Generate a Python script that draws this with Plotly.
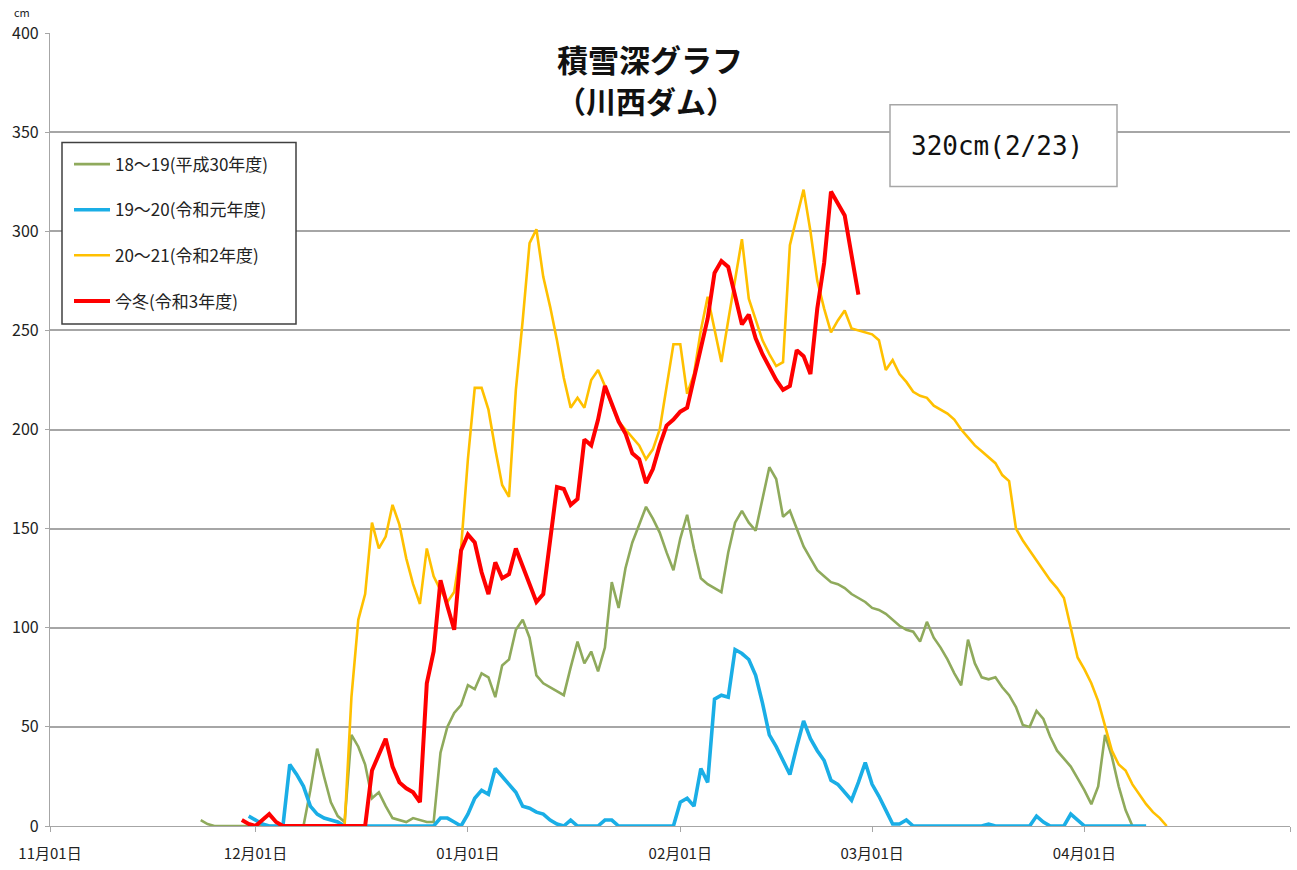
import pandas as pd
import plotly.graph_objects as go

# ---- data (daily snow depth, cm) ----
green_name = "18～19(平成30年度)"
green_start = "2021-11-23"
green_values = [3, 1, 0,
                0, 0, 0, 0, 0, 0, 0, 0, 0, 0, 0, 0, 0,
                18, 39, 25, 12, 5, 2, 46, 40, 31, 14, 17, 10, 4, 3, 2, 4, 3, 2, 2,
                37, 50, 57, 61, 71, 69, 77, 75, 65, 81, 84, 99, 104, 95, 76, 72, 70, 68, 66,
                80, 93, 82, 88, 78, 90, 123, 110, 130, 143, 152, 161, 155, 148, 138, 129, 145, 157, 140,
                125, 122, 120, 118, 138, 153, 159, 153, 149, 165, 181, 175, 156, 159, 150, 141, 135, 129, 126,
                123, 122, 120, 117, 115, 113, 110, 109, 107, 104, 101, 99, 98, 93, 103, 95, 90, 84, 77,
                71, 94, 82, 75, 74, 75, 70, 66, 60, 51, 50, 58, 54, 45, 38, 34, 30, 24, 18,
                11, 20, 46, 35, 20, 8, 0]

blue_name = "19～20(令和元年度)"
blue_start = "2021-11-30"
blue_values = [5, 3, 1, 0, 0, 0, 31, 26, 20, 10, 6, 4, 3, 2, 0,
               0, 0, 0, 0, 0, 0, 0, 0, 0, 0, 0, 0, 0,
               4, 4, 2, 0, 6, 14, 18, 16, 29, 25, 21, 17, 10, 9, 7, 6, 3, 1, 0,
               3, 0, 0, 0, 0, 3, 3, 0, 0, 0, 0, 0, 0, 0, 0, 0,
               12, 14, 10, 29, 22, 64, 66, 65, 89, 87, 84, 76, 62, 46, 40, 33, 26, 40, 53,
               44, 38, 33, 23, 21, 17, 13, 22, 32, 21, 15, 8, 1, 1, 3, 0,
               0, 0, 0, 0, 0, 0, 0, 0, 0, 0,
               1,
               0, 0, 0, 0, 0, 0,
               5, 2, 0, 0, 0, 6, 3, 0,
               0, 0, 0, 0, 0, 0, 0, 0, 0]

yellow_name = "20～21(令和2年度)"
yellow_start = "2021-12-14"
yellow_values = [0, 65, 104, 117, 153, 140, 146, 162, 152, 135, 122, 112, 140, 126, 119, 113, 118, 140, 185,
                 221, 221, 210, 190, 172, 166, 220, 255, 294, 301, 277, 262, 245, 226, 211, 216, 211, 225, 230,
                 222, 212, 204, 200, 196, 192, 185, 190, 200, 222, 243, 243, 218, 228, 250, 267, 250, 234, 255,
                 275, 296, 266, 256, 245, 238, 232, 234, 293, 307, 321, 300, 275, 261, 249, 255, 260, 251, 250,
                 249, 248, 245, 230, 235, 228, 224, 219, 217, 216, 212, 210, 208, 205, 200, 196, 192, 189, 186,
                 183, 177, 174, 150, 144, 139, 134, 129, 124, 120, 115, 100, 85, 79, 72, 63, 50, 38, 31,
                 28, 21, 16, 11, 7, 4, 0]

red_name = "今冬(令和3年度)"
red_start = "2021-11-29"
red_values = [3, 1, 0, 3, 6, 2, 0,
              0, 0, 0, 0, 0, 0, 0, 0, 0, 0, 0, 0,
              28, 36, 44, 30, 22, 19, 17, 12, 72, 88, 124, 111, 99, 139, 147, 143, 128, 117, 133,
              125, 127, 140, 131, 122, 113, 117, 145, 171, 170, 162, 165, 195, 192, 205, 222, 213, 204, 198,
              188, 185, 173, 180, 192, 202, 205, 209, 211, 226, 241, 256, 279, 285, 282, 267, 253, 258, 246,
              238, 231, 225, 220, 222, 240, 237, 228, 261, 284, 320, 314, 308, 288, 268]

tick_dates = ["2021-11-01", "2021-12-01", "2022-01-01", "2022-02-01", "2022-03-01", "2022-04-01", "2022-05-01"]
tick_labels = ["11月01日", "12月01日", "01月01日", "02月01日", "03月01日", "04月01日", ""]
y_ticks = [0, 50, 100, 150, 200, 250, 300, 350, 400]

title_line1 = "積雪深グラフ"
title_line2 = "（川西ダム）"
note_text = "320cm(2/23)"

FONT = "Noto Sans CJK JP"

series = [
    (green_name, green_start, green_values, "#8FAA5C", 2.6),
    (blue_name, blue_start, blue_values, "#1AAEE6", 3.6),
    (yellow_name, yellow_start, yellow_values, "#FFC000", 2.6),
    (red_name, red_start, red_values, "#FF0000", 4.0),
]

fig = go.Figure()
for name, start, vals, color, w in series:
    fig.add_trace(go.Scatter(
        x=pd.date_range(start, periods=len(vals), freq="D"),
        y=vals, mode="lines", name=name, legendgroup=name,
        line=dict(color=color, width=w),
    ))

L, R, T, B = 50, 7, 33, 41
W, H = 1297, 870
pw, ph = W - L - R, H - T - B

def px(x):
    return (x - L) / pw

def py(y):
    return (H - B - y) / ph

fig.update_layout(
    width=W, height=H,
    margin=dict(l=L, r=R, t=T, b=B, pad=0),
    paper_bgcolor="white", plot_bgcolor="white",
    font=dict(family=FONT, size=14, color="#222222"),
    showlegend=True,
    legend=dict(
        x=px(69), y=py(147), xanchor="left", yanchor="top",
        bgcolor="rgba(0,0,0,0)", borderwidth=0,
        font=dict(family=FONT, size=17, color="#222222"),
        tracegroupgap=20.5, itemwidth=36,
    ),
    xaxis=dict(
        type="date", range=["2021-11-01", "2022-05-01"],
        tickmode="array", tickvals=tick_dates, ticktext=tick_labels,
        showgrid=False, zeroline=False,
        showline=True, linecolor="#A6A6A6", linewidth=1.2,
        ticks="outside", ticklen=5, tickcolor="#A6A6A6", tickwidth=1,
        ticklabelstandoff=9,
        tickfont=dict(family=FONT, size=15, color="#222222"),
    ),
    yaxis=dict(
        range=[0, 400], tickmode="array", tickvals=y_ticks,
        showgrid=True, gridcolor="#A6A6A6", gridwidth=1.5,
        zeroline=False,
        showline=True, linecolor="#A6A6A6", linewidth=1.2,
        ticks="outside", ticklen=4, tickcolor="#A6A6A6",
        ticklabelstandoff=3,
        tickfont=dict(family=FONT, size=16, color="#222222"),
    ),
)

# legend frame
fig.add_shape(type="rect", xref="paper", yref="paper",
              x0=px(62), x1=px(296), y0=py(325), y1=py(143),
              line=dict(color="#404040", width=1.5), fillcolor="white", layer="above")
# note box
fig.add_shape(type="rect", xref="paper", yref="paper",
              x0=px(890), x1=px(1117), y0=py(187), y1=py(105),
              line=dict(color="#A6A6A6", width=1.5), fillcolor="white", layer="above")

fig.add_annotation(x=px(909), y=py(146), xref="paper", yref="paper",
                   text=note_text, showarrow=False, xanchor="left", yanchor="middle",
                   font=dict(family="DejaVu Sans Mono", size=26, color="#111111"))
fig.add_annotation(x=px(650), y=py(59), xref="paper", yref="paper",
                   text="<b>" + title_line1 + "</b>", showarrow=False,
                   xanchor="center", yanchor="middle",
                   font=dict(family=FONT, size=31, color="#111111"))
fig.add_annotation(x=px(646), y=py(100), xref="paper", yref="paper",
                   text="<b>" + title_line2 + "</b>", showarrow=False,
                   xanchor="center", yanchor="middle",
                   font=dict(family=FONT, size=30, color="#111111"))
fig.add_annotation(x=px(22), y=py(12), xref="paper", yref="paper",
                   text="cm", showarrow=False, xanchor="center", yanchor="middle",
                   font=dict(family=FONT, size=11, color="#222222"))

fig.write_html("out.html", config={"displayModeBar": False},
               post_script="document.body.style.margin='0';")
